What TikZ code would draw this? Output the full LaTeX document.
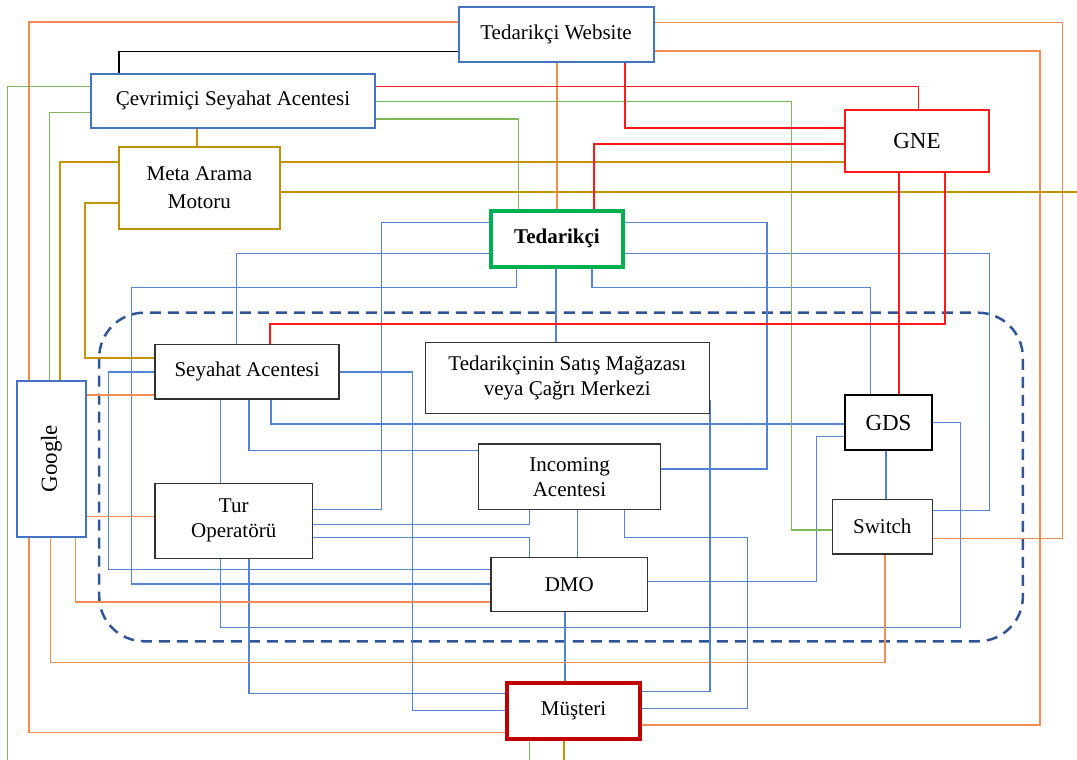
\documentclass[tikz,border=0pt]{standalone}
\usepackage{fontspec}
\setmainfont{Liberation Serif}
\usetikzlibrary{backgrounds}

\definecolor{boxblue}{HTML}{4472C4}
\definecolor{lnblue}{HTML}{5283D4}
\definecolor{lnorange}{HTML}{F08D4F}
\definecolor{lngreen}{HTML}{7DB95A}
\definecolor{lngold}{HTML}{C29408}
\definecolor{boxgold}{HTML}{BF9000}
\definecolor{lnred}{HTML}{FF1A1A}
\definecolor{tedgreen}{HTML}{00B050}
\definecolor{musred}{HTML}{C00000}
\definecolor{zone}{HTML}{2F5597}

\tikzset{
  base/.style={rectangle, fill=white, inner sep=0pt, align=center,
    font=\fontsize{21}{25}\selectfont},
  bigtxt/.style={font=\fontsize{23}{27}\selectfont},
  bluebox/.style={base, draw=boxblue, line width=2pt},
  goldbox/.style={base, draw=boxgold, line width=2pt},
  redbox/.style={base, draw=lnred, line width=2pt},
  plainbox/.style={base, draw=black!80, line width=1.5pt},
  gdsbox/.style={base, draw=black, line width=2.2pt},
  tedbox/.style={base, draw=tedgreen, line width=4pt},
  musbox/.style={base, draw=musred, line width=4pt},
  bl/.style={draw=lnblue, line width=1.3pt},
  orl/.style={draw=lnorange, line width=1.5pt},
  grl/.style={draw=lngreen, line width=1.4pt},
  gdl/.style={draw=lngold, line width=2pt},
  rdl/.style={draw=lnred, line width=2.2pt},
  bkl/.style={draw=black, line width=1.3pt},
  zonebox/.style={draw=zone, line width=2.5pt, dash pattern=on 11pt off 7pt,
    rounded corners=45pt}
}

\begin{document}
\begin{tikzpicture}[x=1pt,y=-1pt]
\useasboundingbox (0,0) rectangle (1077,760);

% ---------- nodes ----------
\node[bluebox, minimum width=195pt, minimum height=54.4pt] (TW) at (556,34.5) {Tedarikçi Website};
\node[bluebox, minimum width=284.7pt, minimum height=53.7pt] (CSA) at (233,100.9) {Çevrimiçi Seyahat Acentesi};
\node[goldbox, minimum width=161.2pt, minimum height=82.6pt, font=\fontsize{21}{28}\selectfont] (Meta) at (199.4,188) {Meta Arama\\Motoru};
\node[redbox, bigtxt, minimum width=144.5pt, minimum height=62pt] (GNE) at (917,141) {GNE};
\node[tedbox, minimum width=132.5pt, minimum height=56pt] (Ted) at (557,238.7) {\bfseries Tedarikçi};
\node[bluebox, minimum width=69.3pt, minimum height=156pt] (Google) at (51.3,458.7) {};
\node[rotate=90, bigtxt] (GoogleLbl) at (Google.center) {Google};
\node[plainbox, minimum width=184.2pt, minimum height=54.7pt] (SA) at (247.1,371.7) {Seyahat Acentesi};
\node[plainbox, minimum width=283.9pt, minimum height=70.6pt] (TS) at (567.3,378) {Tedarikçinin Satış Mağazası\\veya Çağrı Merkezi};
\node[gdsbox, bigtxt, minimum width=87pt, minimum height=55pt] (GDS) at (888.5,422.5) {GDS};
\node[plainbox, minimum width=182.4pt, minimum height=65.3pt] (Inc) at (569.5,476.7) {Incoming\\Acentesi};
\node[plainbox, minimum width=157.3pt, minimum height=75pt] (Tur) at (233.7,520.8) {Tur\\Operatörü};
\node[plainbox, minimum width=100pt, minimum height=54.7pt] (Sw) at (882.3,526.7) {Switch};
\node[plainbox, minimum width=156.7pt, minimum height=54pt] (DMO) at (569.3,584.3) {DMO};
\node[musbox, minimum width=132.4pt, minimum height=56pt] (Mus) at (573.5,710.7) {Müşteri};

% free ends at the border
\coordinate (edgeGreenL) at (7.6,760);
\coordinate (edgeGoldR) at (1077,192.3);
\coordinate (edgeGreenM) at (529.7,760);
\coordinate (edgeGoldM) at (564.3,760);

\begin{scope}[on background layer]
% dashed zone around the intermediaries
\draw[zonebox] (99.2,312.7) rectangle (1022.9,641.3);

% ---------- blue connectors ----------
\draw[bl] (Ted.west |- 0,222.7) -| (381.5,509.3) -- (Tur.east |- 0,509.3);
\draw[bl] (Ted.west |- 0,253.3) -| (SA.north -| 236.2,0);
\draw[bl] (Ted.south -| 516.5,0) |- (131.7,287.3) |- (DMO.west |- 0,584);
\draw[bl] (Ted.south -| 556,0) -- (TS.north -| 556,0);
\draw[bl] (Ted.east |- 0,253.3) -| (989.7,510.7) -- (Sw.east |- 0,510.7);
\draw[bl] (Ted.south -| 592,0) |- (870.8,287.3) -- (GDS.north -| 870.8,0);
\draw[bl] (Ted.east |- 0,222.7) -| (767,469) -- (Inc.east |- 0,469);
\draw[bl] (SA.west |- 0,372) -| (108.8,569.3) -- (DMO.west |- 0,569.3);
\draw[bl] (SA.east |- 0,372) -| (412.2,710.7) -- (Mus.west |- 0,710.7);
\draw[bl] (SA.south -| 220.4,0) -- (Tur.north -| 220.4,0);
\draw[bl] (SA.south -| 249,0) |- (Inc.west |- 0,450.7);
\draw[bl] (SA.south -| 271,0) |- (GDS.west |- 0,424);
\draw[bl] (TS.east |- 0,400) |- (Mus.east |- 0,691.7);
\draw[bl] (Inc.south -| 529.3,0) |- (Tur.east |- 0,524.7);
\draw[bl] (Inc.south -| 577.3,0) -- (DMO.north -| 577.3,0);
\draw[bl] (Inc.south -| 624.7,0) |- (747.2,537.3) |- (Mus.east |- 0,708.3);
\draw[bl] (Tur.east |- 0,537.3) -| (DMO.north -| 529.3,0);
\draw[bl] (Tur.south -| 220.4,0) |- (960.5,627.3) |- (GDS.east |- 0,422.7);
\draw[bl] (Tur.south -| 249,0) |- (Mus.west |- 0,693.3);
\draw[bl] (DMO.east |- 0,581.7) -| (816.7,436.7) -- (GDS.west |- 0,436.7);
\draw[bl] (DMO.south -| 565,0) -- (Mus.north -| 565,0);
\draw[bl] (GDS.south -| 886,0) -- (Sw.north -| 886,0);

% ---------- orange connectors ----------
\draw[orl] (TW.west |- 0,22) -| (Google.north -| 29,0);
\draw[orl] (Google.south -| 29,0) |- (Mus.west |- 0,732.3);
\draw[orl] (TW.south -| 557,0) -- (Ted.north -| 557,0);
\draw[orl] (TW.east |- 0,22.7) -| (1062.3,538.3) -- (Sw.east |- 0,538.3);
\draw[orl] (TW.east |- 0,51) -| (1040,725) -- (Mus.east |- 0,725);
\draw[orl] (Google.east |- 0,395) -- (SA.west |- 0,395);
\draw[orl] (Google.east |- 0,516.7) -- (Tur.west |- 0,516.7);
\draw[orl] (Google.south -| 50.6,0) |- (884.9,662.7) -- (Sw.south -| 884.9,0);
\draw[orl] (Google.south -| 75.5,0) |- (DMO.west |- 0,602);

% ---------- green connectors ----------
\draw[grl] (CSA.west |- 0,86.7) -| (edgeGreenL);
\draw[grl] (CSA.west |- 0,112.7) -| (Google.north -| 49.5,0);
\draw[grl] (CSA.east |- 0,119) -| (Ted.north -| 518.3,0);
\draw[grl] (CSA.east |- 0,101.7) -| (791.7,530) -- (Sw.west |- 0,530);
\draw[grl] (Mus.south -| 529.7,0) -- (edgeGreenM);

% ---------- gold connectors ----------
\draw[gdl] (CSA.south -| 197,0) -- (Meta.north -| 197,0);
\draw[gdl] (Meta.east |- 0,162.3) -- (GNE.west |- 0,162.3);
\draw[gdl] (Meta.east |- 0,192.3) -- (edgeGoldR);
\draw[gdl] (Meta.west |- 0,162.3) -| (Google.north -| 60.3,0);
\draw[gdl] (Meta.west |- 0,202.7) -| (84.7,358) -- (SA.west |- 0,358);
\draw[gdl] (Mus.south -| 564.3,0) -- (edgeGoldM);

% ---------- red connectors ----------
\draw[rdl, line width=1.6pt] (CSA.east |- 0,86.7) -| (GNE.north -| 918.4,0);
\draw[rdl] (TW.south -| 624.6,0) |- (GNE.west |- 0,127.7);
\draw[rdl] (Ted.north -| 594,0) |- (GNE.west |- 0,144.3);
\draw[rdl] (GNE.south -| 898.9,0) -- (GDS.north -| 898.9,0);
\draw[rdl] (GNE.south -| 944.8,0) |- (270.3,324) -- (SA.north -| 270.3,0);

% ---------- black connector ----------
\draw[bkl] (TW.west |- 0,51.7) -| (CSA.north -| 119,0);
\end{scope}
\end{tikzpicture}
\end{document}
